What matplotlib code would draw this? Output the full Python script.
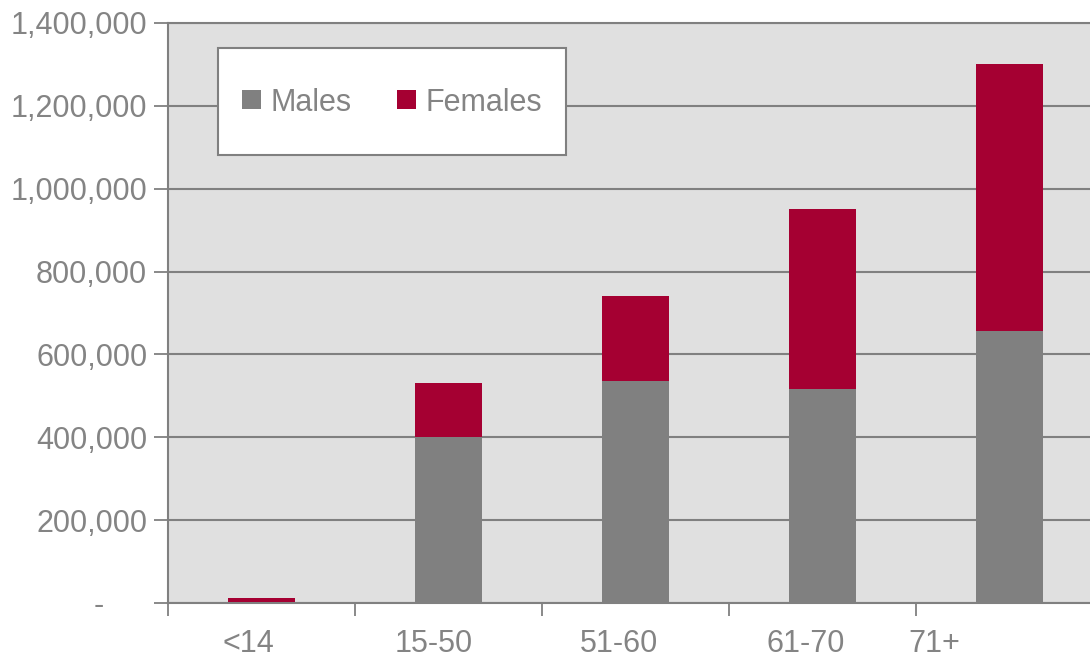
import matplotlib
matplotlib.use("Agg")
import matplotlib.pyplot as plt
import numpy as np
from matplotlib.patches import Patch, Rectangle
from matplotlib.legend_handler import HandlerPatch
from matplotlib.ticker import FuncFormatter, FixedLocator

# data
age_groups = ["<14", "15-50", "51-60", "61-70", "71+"]
males = [3000, 400000, 537000, 517000, 656000]
females = [9000, 130000, 203000, 435000, 645000]

GREY = "#808080"
RED = "#A50032"
TEXT = "#848484"

plt.rcParams["font.family"] = ["Liberation Sans", "DejaVu Sans"]

fig = plt.figure(figsize=(10.9, 6.61), dpi=100)
# axes runs off the right edge like the cropped original
ax = fig.add_axes([168 / 1090, 58 / 661, 935 / 1090, 580 / 661])
ax.set_facecolor("#E0E0E0")

x = np.arange(len(age_groups))
width = 0.36
ax.bar(x, males, width, color=GREY, zorder=3)
ax.bar(x, females, width, bottom=males, color=RED, zorder=3)

ax.set_xlim(-0.5, len(age_groups) - 0.5)
ax.set_ylim(0, 1400000)

# y axis
ax.set_yticks(np.arange(0, 1400001, 200000))
ax.yaxis.set_major_formatter(
    FuncFormatter(lambda v, p: "-     " if v == 0 else f"{v:,.0f}"))
ax.yaxis.grid(True, color=GREY, linewidth=1.5, zorder=1)
ax.tick_params(axis="y", direction="out", length=10, width=1.3, color=GREY,
               labelsize=22, labelcolor=TEXT, pad=5)

# x axis: tick marks at category boundaries, labels slightly off centre
label_shift = [-0.07, -0.08, -0.09, -0.09, -0.40]
ax.xaxis.set_minor_locator(FixedLocator(np.arange(len(age_groups) + 1) - 0.5))
ax.set_xticks(x + np.array(label_shift))
ax.set_xticklabels(age_groups)
ax.tick_params(axis="x", which="major", length=0, labelsize=22,
               labelcolor=TEXT, pad=19)
ax.tick_params(axis="x", which="minor", direction="out", length=9, width=1.3,
               color=GREY)

for side in ["left", "bottom", "top", "right"]:
    ax.spines[side].set_color(GREY)
    ax.spines[side].set_linewidth(1.5)


def square(legend, orig_handle, xdescent, ydescent, width, height, fontsize):
    # small square sitting at cap-height middle of the label text
    s = 0.63 * fontsize
    return Rectangle((0, 0.36 * fontsize - s / 2), s, s)


handles = [Patch(facecolor=GREY, edgecolor="none"),
           Patch(facecolor=RED, edgecolor="none")]
leg = ax.legend(handles, ["Males", "Females"], ncol=2, loc="upper left",
                bbox_to_anchor=(50 / 935, (603 - 48) / 580), borderaxespad=0,
                fontsize=22, frameon=True, fancybox=False, framealpha=1,
                borderpad=0.78, handlelength=0.63, handleheight=2.62,
                handletextpad=0.3, columnspacing=1.5,
                handler_map={Patch: HandlerPatch(patch_func=square)})
leg.get_frame().set_edgecolor(GREY)
leg.get_frame().set_linewidth(1.5)
for t in leg.get_texts():
    t.set_color(TEXT)
leg.set_zorder(5)

fig.savefig("out.png", dpi=100, facecolor="white")
